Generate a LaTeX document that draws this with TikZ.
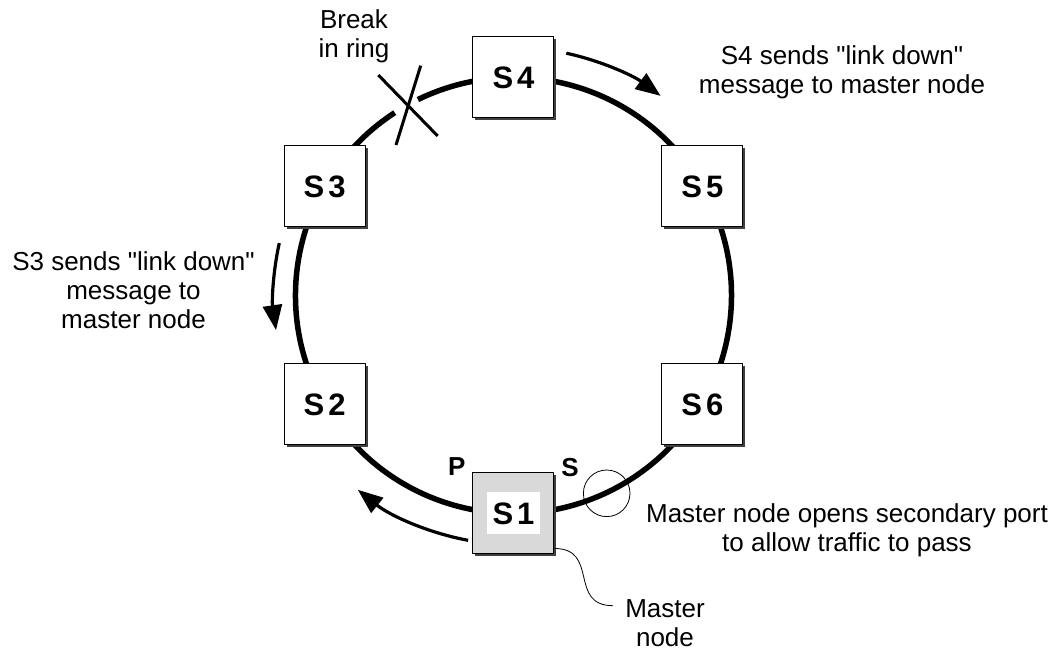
\documentclass[tikz,border=0pt]{standalone}
\usepackage{fontspec}
\setmainfont{Liberation Sans}[Ligatures=TeXOff]
\usetikzlibrary{arrows.meta,shadows}

\tikzset{
  sw/.style={draw, line width=1pt, fill=white, minimum size=81pt, inner sep=0pt,
    font=\fontsize{31}{31}\selectfont\bfseries,
    drop shadow={shadow xshift=2.5pt, shadow yshift=-2.5pt, fill=black!75, opacity=1}},
  msg/.style={line width=3.2pt, -{Triangle[length=25pt,width=19pt]}},
  txt/.style={align=center, inner sep=0pt, font=\fontsize{26}{29}\selectfont},
  port/.style={inner sep=0pt, font=\fontsize{26}{26}\selectfont\bfseries}
}

\begin{document}
\begin{tikzpicture}[x=1pt, y=1pt, line cap=butt, line join=round]
    \useasboundingbox (-513.5,-354.5) rectangle (547.5,295.5);
    % ring with the break between S3 and S4
    \draw[line width=5.5pt] (123:218) arc[start angle=123, end angle=476, radius=218];
    \draw[line width=3pt] (-135.2,220.5) -- (-75.8,159.5);
    \draw[line width=3pt] (-92.8,229.8) -- (-117.5,150.5);
    % switches
    \foreach \n/\a in {2/210,3/150,4/90,5/30,6/-30}
      \node[sw] (s\n) at (\a:218) {S\kern4pt\n};
    \node[sw, fill=black!15] (s1) at (-90:218) {};
    \node[fill=white, minimum width=53pt, minimum height=42pt, inner sep=0pt,
      font=\fontsize{31}{31}\selectfont\bfseries] (s1lbl) at (s1) {S\kern4pt 1};
    \node[port] (p) at (-56.8,-171.2) {P};
    \node[port] (s) at (56.5,-172.5) {S};
    \node[circle, draw, line width=0.8pt, minimum size=46.6pt, inner sep=0pt] (sport) at (93.2,-197.8) {};
    % messages
    \draw[msg] (77.7:248) arc[start angle=77.7, end angle=53.6, radius=248];
    \draw[msg] (167.4:240) arc[start angle=167.4, end angle=188.3, radius=240];
    \draw[msg] (259.5:249) arc[start angle=259.5, end angle=231.3, radius=249];
    % labels
    \node[txt] (brk) at (-159.5,259.5) {Break\\in ring};
    \node[txt] (s4msg) at (328.5,223.5) {S4 sends "link down"\\message to master node};
    \node[txt] (s3msg) at (-380,5) {S3 sends "link down"\\message to\\master node};
    \node[txt] (open) at (333.5,-234.5) {Master node opens secondary port\\to allow traffic to pass};
    \node[txt] (mlbl) at (151.5,-327.5) {Master\\node};
    \coordinate (mend) at (99.5,-310.2);
    \draw[line width=0.8pt] ([yshift=6pt]s1.south east) .. controls +(45,0) and +(-45,0) .. (mend);
\end{tikzpicture}
\end{document}
